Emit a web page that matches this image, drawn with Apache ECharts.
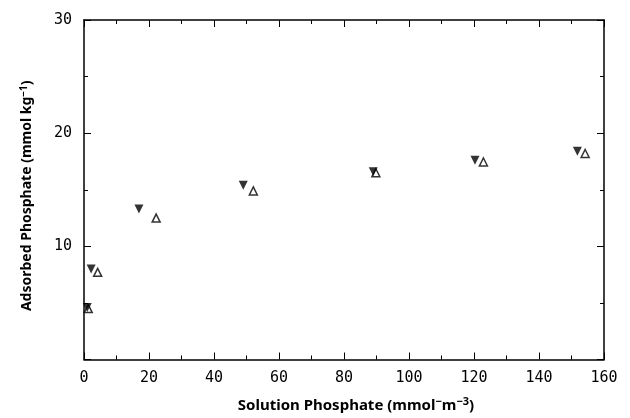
<!DOCTYPE html>
<html><head><meta charset="utf-8">
<script src="https://cdn.jsdelivr.net/npm/echarts@6/dist/echarts.min.js"></script>
<style>html,body{margin:0;padding:0;background:#fff}#c{width:630px;height:418px}</style>
</head><body><div id="c"></div>
<script>
const filledX = [1.0, 2.2, 16.9, 49.0, 89.0, 120.3, 151.8];
const filledY = [4.6, 8.0, 13.3, 15.4, 16.6, 17.6, 18.4];
const openX = [1.3, 4.2, 22.2, 52.1, 89.8, 122.9, 154.2];
const openY = [4.5, 7.7, 12.5, 14.9, 16.5, 17.45, 18.2];
const xTicks = [0, 20, 40, 60, 80, 100, 120, 140, 160];
const yTicks = [10, 20, 30];

const chart = echarts.init(document.getElementById('c'), null, {renderer: 'canvas'});
const tickFont = {fontFamily: 'DejaVu Sans Mono', fontSize: 15, color: '#000'};
const lineStyle = {color: '#000', width: 1.5};
function mkRich(size) {
  return {
    t: {fontFamily: 'Noto Sans', fontWeight: 'bold', fontSize: size, color: '#000'},
    s: {fontFamily: 'Noto Sans', fontWeight: 'bold', fontSize: size - 4, color: '#000', verticalAlign: 'bottom', padding: [0,0,7,0]}
  };
}
function mkX(pos) {
  return {
    type: 'value', min: 0, max: 160, interval: 20, position: pos,
    axisLine: {show: true, onZero: false, lineStyle: lineStyle},
    axisTick: {show: true, inside: true, length: 7, lineStyle: {color: '#000', width: 1}},
    minorTick: {show: true, splitNumber: 2, length: 4, lineStyle: {color: '#000', width: 1}},
    splitLine: {show: false}
  };
}
function mkY(pos) {
  return {
    type: 'value', min: 0, max: 30, interval: 10, position: pos,
    axisLine: {show: true, onZero: false, lineStyle: lineStyle},
    axisTick: {show: true, inside: true, length: 7, lineStyle: {color: '#000', width: 1}},
    minorTick: {show: true, splitNumber: 2, length: 4, lineStyle: {color: '#000', width: 1}},
    splitLine: {show: false}
  };
}
const xb = mkX('bottom'), xt = mkX('top'), yl = mkY('left'), yr = mkY('right');
xb.axisLabel = Object.assign({margin: 11, formatter: v => xTicks.includes(v) ? String(v) : ''}, tickFont);
xb.name = '{t|Solution Phosphate (mmol}{s|\u2212}{t|m}{s|\u22123}{t|)}';
xb.nameLocation = 'middle'; xb.nameGap = 37;
xb.nameTextStyle = {rich: mkRich(15), padding: [0, 0, 0, 24]};
xt.axisLabel = {show: false};
yl.axisLabel = Object.assign({margin: 12, formatter: v => yTicks.includes(v) ? String(v) : ''}, tickFont);
yl.name = '{t|Adsorbed Phosphate (mmol kg}{s|\u22121}{t|)}';
yl.nameLocation = 'middle'; yl.nameGap = 48;
yl.nameTextStyle = {rich: mkRich(14), padding: [0, 12, 0, 0]};
yr.axisLabel = {show: false};
chart.setOption({
  animation: false,
  backgroundColor: '#fff',
  grid: {left: 84, right: 26, top: 20, bottom: 54},
  xAxis: [xb, xt],
  yAxis: [yl, yr],
  series: [
    {
      type: 'scatter', xAxisIndex: 0, yAxisIndex: 0,
      data: filledX.map((x, i) => [x, filledY[i]]),
      symbol: 'triangle', symbolRotate: 180, symbolSize: 9,
      itemStyle: {color: '#000'}, z: 3
    },
    {
      type: 'scatter', xAxisIndex: 0, yAxisIndex: 0,
      data: openX.map((x, i) => [x, openY[i]]),
      symbol: 'triangle', symbolSize: 8,
      itemStyle: {color: '#fff', borderColor: '#000', borderWidth: 1.5}, z: 2
    }
  ]
});
</script></body></html>
